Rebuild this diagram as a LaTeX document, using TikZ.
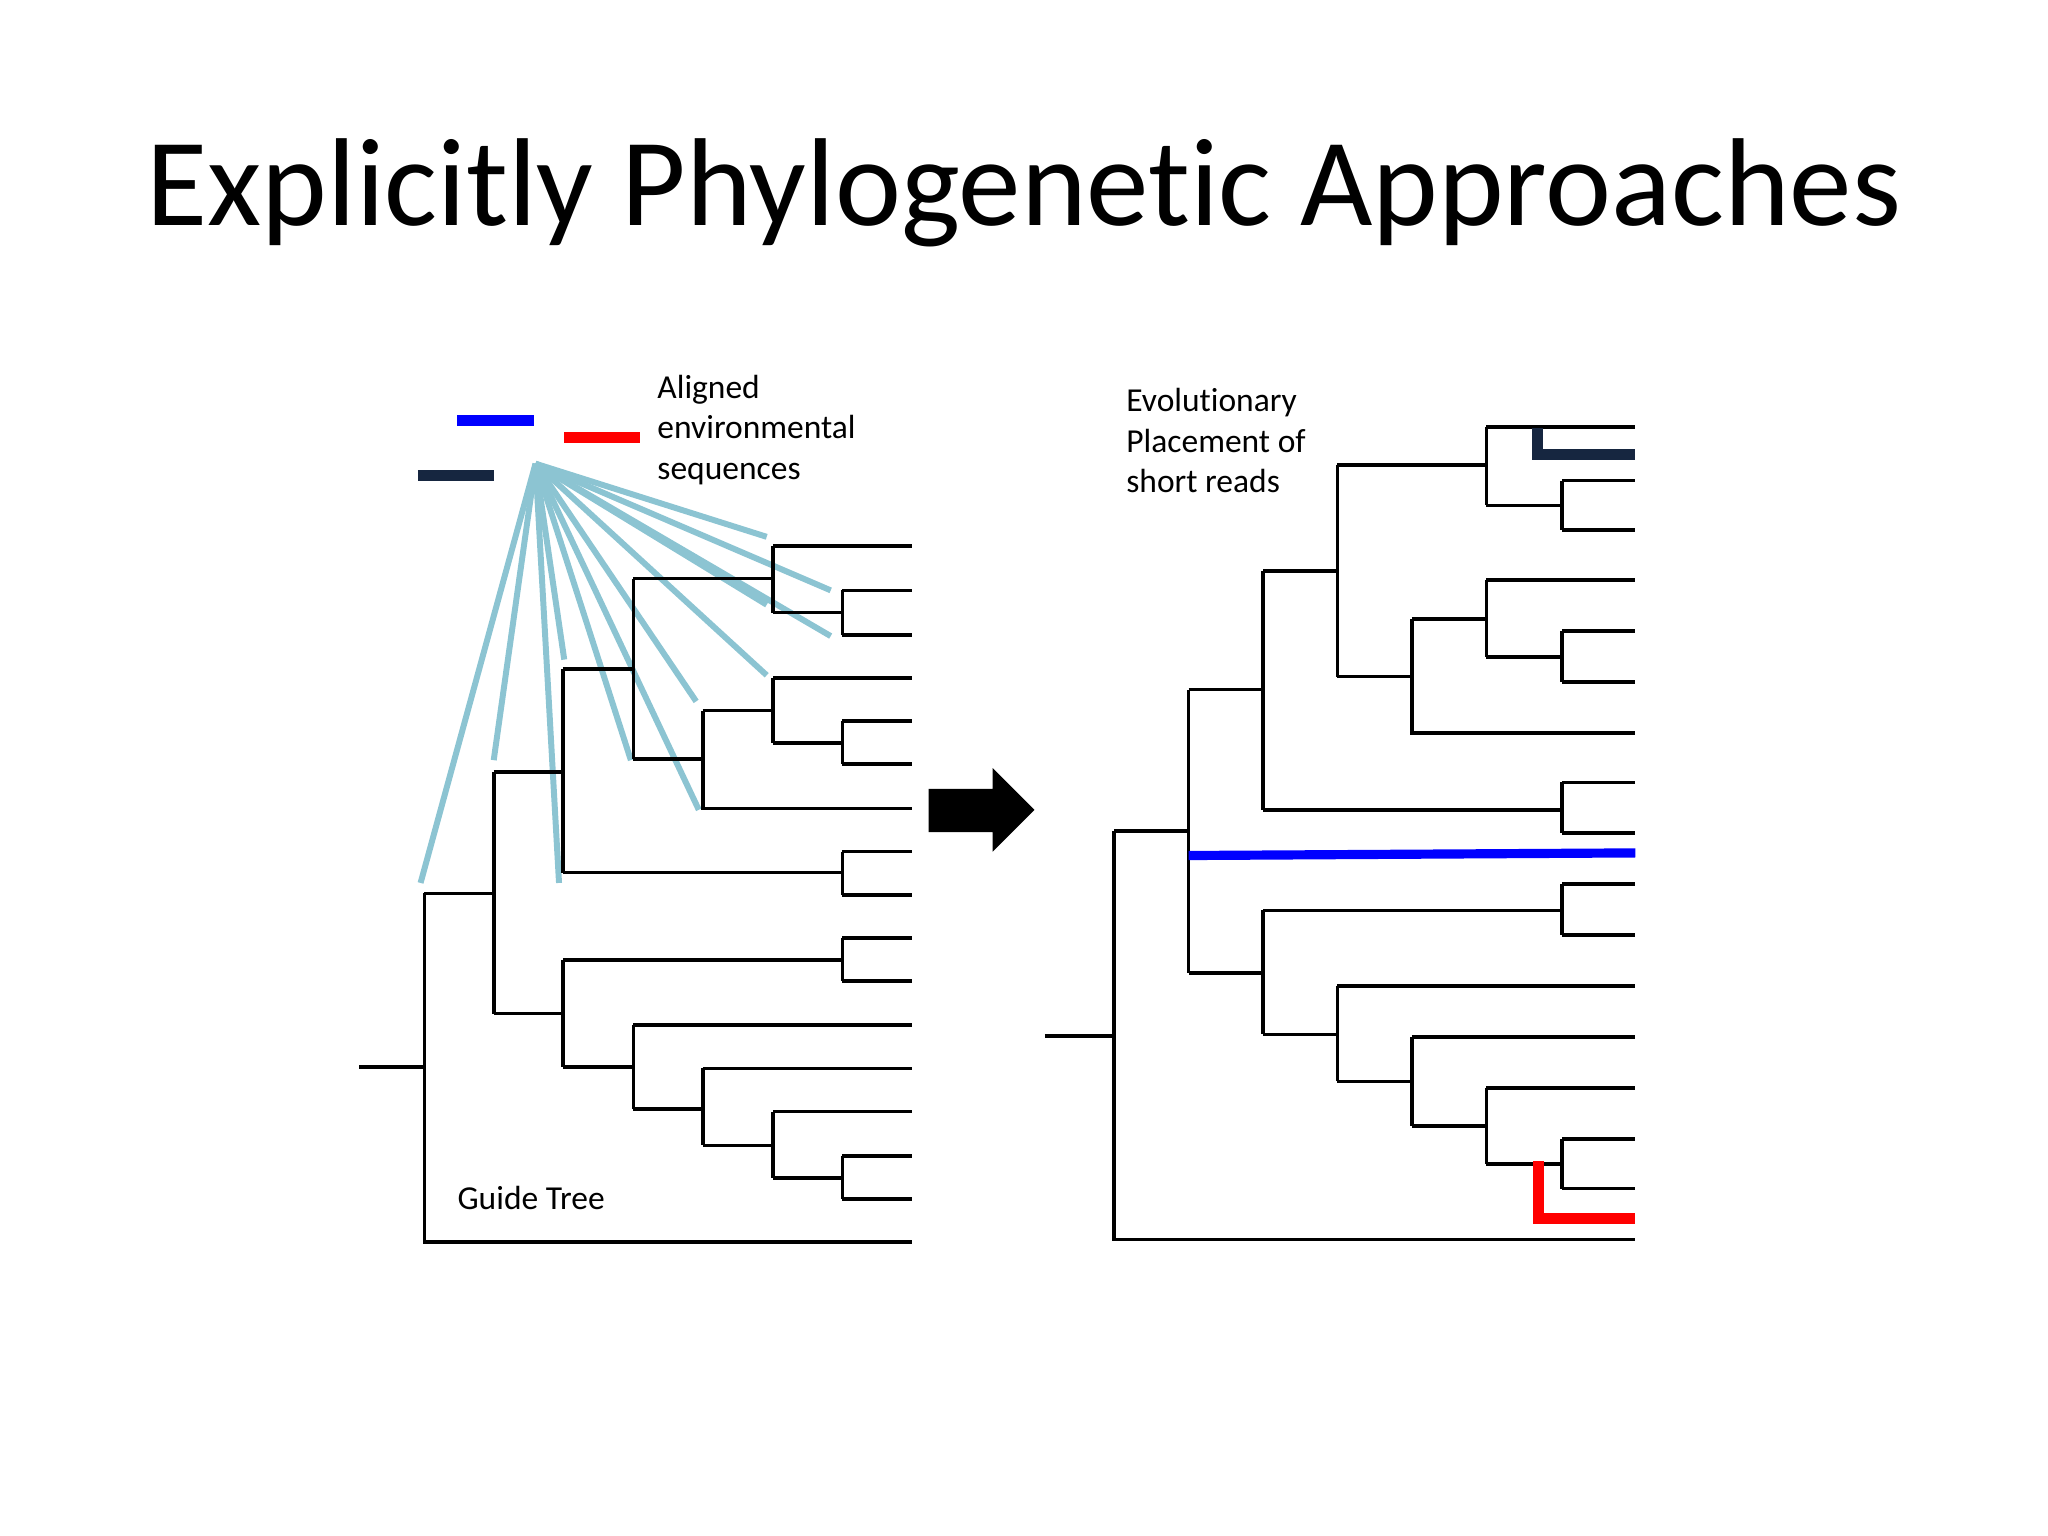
\documentclass[tikz,border=0pt]{standalone}
\usepackage{fontspec}
\setmainfont{Carlito}[Ligatures=NoCommon]
\usetikzlibrary{positioning}
\definecolor{navy}{RGB}{22,38,64}
\definecolor{seqblue}{RGB}{140,196,210}
\tikzset{branch/.style={line width=1.6pt,black},
  seq/.style={line width=5pt,line cap=butt},
  fan/.style={line width=2.6pt,seqblue},
  lbl/.style={align=left,anchor=north west,font=\fontsize{14.6}{17.6}\selectfont,inner sep=0pt}}
\begin{document}
\begin{tikzpicture}[x=0.02cm,y=-0.02cm]
\useasboundingbox (0,0) rectangle (1568,1176);
\node[font=\fontsize{54.5}{60}\selectfont] (title) at (784,148) {Explicitly Phylogenetic Approaches};

% left: guide tree
\coordinate (hub) at (410,355);
\foreach \x/\y in {322/676,378/582,428/676,432/505,483/582,535/620,533/537,587/517,636/487,587/463,636/452,587/411}
  \draw[fan] (hub) -- (\x,\y);
\draw[branch] (275,817) -- (325,817) (325,684) -- (325,951) -- (698,951)
  (325,684) -- (378,684) (378,591) -- (378,776)
  (378,591) -- (431,591) (431,512) -- (431,668)
  (431,512) -- (485,512) (485,443) -- (485,581)
  (485,443) -- (592,443) (592,418) -- (592,469) (592,418) -- (698,418)
  (592,469) -- (645,469) (645,452) -- (645,486)
  (485,581) -- (538,581) (538,544) -- (538,619) -- (698,619)
  (538,544) -- (592,544) (592,519) -- (592,569) (592,519) -- (698,519)
  (592,569) -- (645,569) (645,552) -- (645,585)
  (431,668) -- (645,668) (645,652) -- (645,685)
  (378,776) -- (431,776) (431,735) -- (431,817)
  (431,735) -- (645,735) (645,718) -- (645,751)
  (431,817) -- (485,817) (485,785) -- (485,849) (485,785) -- (698,785)
  (485,849) -- (538,849) (538,818) -- (538,877) (538,818) -- (698,818)
  (538,877) -- (592,877) (592,851) -- (592,902) (592,851) -- (698,851)
  (592,902) -- (645,902) (645,885) -- (645,918);
\foreach \y in {452,486,552,585,652,685,718,751,885,918}
  \draw[branch] (645,\y) -- (698,\y);
\draw[seq,blue] (350,322) -- (409,322);
\draw[seq,red] (432,335) -- (490,335);
\draw[seq,navy] (320,364) -- (378,364);
\node[lbl] (aligned) at (503,287) {Aligned\\environmental\\sequences};
\node[lbl] (guide) at (350,908) {Guide Tree};

% arrow
\fill[black] (711,604) -- (760,604) -- (760,588) -- (792,620) -- (760,652)
  -- (760,637) -- (711,637) -- cycle;

% right: placement tree
\draw[branch] (800,793) -- (853,793) (853,636) -- (853,949) -- (1252,949)
  (853,636) -- (910,636) (910,528) -- (910,745)
  (910,528) -- (967,528) (967,437) -- (967,620)
  (967,437) -- (1024,437) (1024,356) -- (1024,518)
  (1024,356) -- (1138,356) (1138,327) -- (1138,387) (1138,327) -- (1252,327)
  (1138,387) -- (1196,387) (1196,368) -- (1196,406)
  (1024,518) -- (1081,518) (1081,474) -- (1081,561) -- (1252,561)
  (1081,474) -- (1138,474) (1138,444) -- (1138,503) (1138,444) -- (1252,444)
  (1138,503) -- (1196,503) (1196,483) -- (1196,522)
  (967,620) -- (1196,620) (1196,599) -- (1196,638)
  (910,745) -- (967,745) (967,697) -- (967,792)
  (967,697) -- (1196,697) (1196,677) -- (1196,716)
  (967,792) -- (1024,792) (1024,755) -- (1024,828) (1024,755) -- (1252,755)
  (1024,828) -- (1081,828) (1081,794) -- (1081,862) (1081,794) -- (1252,794)
  (1081,862) -- (1138,862) (1138,833) -- (1138,891) (1138,833) -- (1252,833)
  (1138,891) -- (1196,891) (1196,872) -- (1196,910);
\foreach \y in {368,406,483,522,599,638,677,716,872,910}
  \draw[branch] (1196,\y) -- (1252,\y);
\draw[seq,navy] (1177,328) -- (1177,348) -- (1252,348);
\draw[seq,blue,line width=4pt] (910,655) -- (1252,653);
\draw[seq,red] (1178,889) -- (1178,933) -- (1252,933);
\node[lbl] (placed) at (862,297) {Evolutionary\\Placement of\\short reads};
\end{tikzpicture}
\end{document}
